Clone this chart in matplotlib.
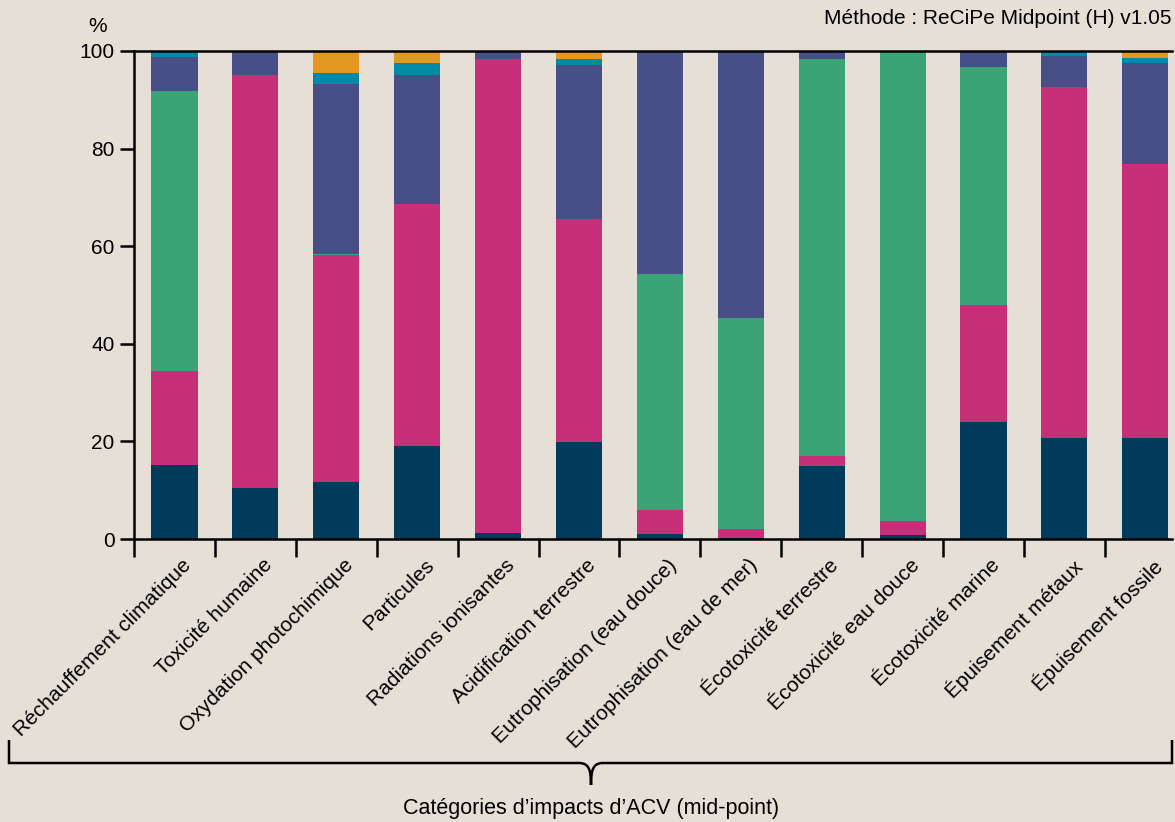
import numpy as np
import matplotlib.pyplot as plt
import matplotlib.transforms as mtrans
from matplotlib.path import Path
from matplotlib.patches import PathPatch

categories = ["Réchauffement climatique", "Toxicité humaine", "Oxydation photochimique",
              "Particules", "Radiations ionisantes", "Acidification terrestre",
              "Eutrophisation (eau douce)", "Eutrophisation (eau de mer)",
              "Écotoxicité terrestre", "Écotoxicité eau douce", "Écotoxicité marine",
              "Épuisement métaux", "Épuisement fossile"]

# stacked shares (%) bottom to top
s_navy    = [15.2, 10.5, 11.7, 19.1, 1.2, 19.9, 1.0, 0.3, 15.0, 0.8, 24.0, 20.7, 20.7]
s_magenta = [19.2, 84.6, 46.5, 49.5, 97.1, 45.7, 4.9, 1.7, 2.0, 2.9, 24.0, 72.0, 56.1]
s_green   = [57.4, 0.0, 0.3, 0.0, 0.0, 0.0, 48.4, 43.3, 81.3, 96.3, 48.8, 0.0, 0.0]
s_purple  = [6.9, 4.9, 34.8, 26.5, 1.7, 31.6, 45.7, 54.7, 1.7, 0.0, 3.2, 6.3, 20.8]
s_teal    = [1.3, 0.0, 2.2, 2.4, 0.0, 1.2, 0.0, 0.0, 0.0, 0.0, 0.0, 1.0, 1.0]
s_orange  = [0.0, 0.0, 4.5, 2.5, 0.0, 1.6, 0.0, 0.0, 0.0, 0.0, 0.0, 0.0, 1.4]

series = [s_navy, s_magenta, s_green, s_purple, s_teal, s_orange]
colors = ["#003b5c", "#c73078", "#3ba477", "#474f86", "#008aa6", "#e39822"]

bg = "#e5dfd5"
plt.rcParams['font.family'] = ['Liberation Sans', 'DejaVu Sans']

fig = plt.figure(figsize=(11.75, 8.22), dpi=100, facecolor=bg)
ax = fig.add_axes([134/1175, 1-539/822, (1172-134)/1175, (539-51)/822])
ax.set_facecolor(bg)

x = np.arange(len(categories))
bottom = np.zeros(len(categories))
for vals, c in zip(series, colors):
    ax.bar(x, vals, width=0.57, bottom=bottom, color=c, linewidth=0)
    bottom += np.array(vals)

ax.set_xlim(-0.5, 12.33)
ax.set_ylim(0, 100)
ax.spines['right'].set_visible(False)
for sp in ['left', 'bottom', 'top']:
    ax.spines[sp].set_linewidth(1.8)
ax.set_yticks([0, 20, 40, 60, 80, 100])
ax.tick_params(axis='y', labelsize=15, length=10, width=1.8, pad=4)
ax.set_xticks(x)
ax.set_xticklabels(categories, rotation=45, ha='right', rotation_mode='anchor', fontsize=15)
ax.tick_params(axis='x', which='major', length=0, pad=14)
ax.set_xticks(np.arange(-0.5, 12, 1), minor=True)
ax.tick_params(axis='x', which='minor', length=13, width=1.8)
shift = mtrans.ScaledTranslation(7/100, 3/100, fig.dpi_scale_trans)
for lab in ax.get_xticklabels():
    lab.set_transform(lab.get_transform() + shift)

fig.text(98/1175, 1-27/822, "%", fontsize=15, ha='center', va='center')
fig.text(1171/1175, 1-18/822, "Méthode : ReCiPe Midpoint (H) v1.05", fontsize=15,
         ha='right', va='center')

# bracket under the labels
W, H = 1175, 822
def fp(px, py):
    return (px / W, 1 - py / H)

cx = 591
verts = [fp(9, 740), fp(9, 763), fp(cx - 12, 763),
         fp(cx - 2, 763), fp(cx, 770), fp(cx, 785),
         fp(cx, 770), fp(cx + 2, 763), fp(cx + 12, 763),
         fp(1172, 763), fp(1172, 740)]
codes = [Path.MOVETO, Path.LINETO, Path.LINETO,
         Path.CURVE4, Path.CURVE4, Path.CURVE4,
         Path.CURVE4, Path.CURVE4, Path.CURVE4,
         Path.LINETO, Path.LINETO]
fig.add_artist(PathPatch(Path(verts, codes), transform=fig.transFigure,
                         facecolor='none', edgecolor='black', linewidth=1.8))

fig.text(cx / W, 1 - 808 / H, "Catégories d’impacts d’ACV (mid-point)",
         fontsize=15.5, ha='center', va='center',
         family=['Liberation Sans Narrow', 'Liberation Sans', 'DejaVu Sans'])

fig.savefig("out.png", dpi=100, facecolor=bg)
